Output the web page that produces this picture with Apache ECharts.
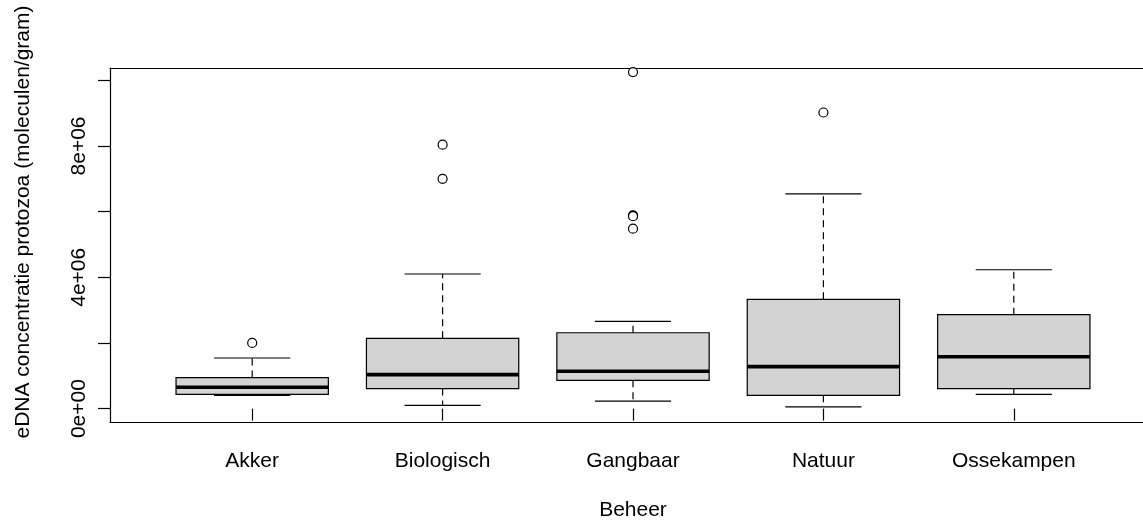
<!DOCTYPE html>
<html>
<head>
<meta charset="utf-8">
<title>eDNA protozoa per beheer</title>
<script src="https://cdn.jsdelivr.net/npm/echarts@6/dist/echarts.min.js"></script>
<style>
  html, body { margin: 0; padding: 0; background: #fff; }
  #chart { width: 1143px; height: 526px; }
</style>
</head>
<body>
<div id="chart"></div>
<script>
// groepen (Beheer)
var categories = ['Akker', 'Biologisch', 'Gangbaar', 'Natuur', 'Ossekampen'];
// boxplot statistieken per groep (moleculen/gram)
var whiskerLow  = [0.405e6, 0.10e6, 0.23e6, 0.05e6, 0.436e6];
var q1          = [0.436e6, 0.609e6, 0.862e6, 0.405e6, 0.61e6];
var median      = [0.649e6, 1.036e6, 1.136e6, 1.28e6, 1.58e6];
var q3          = [0.944e6, 2.14e6, 2.31e6, 3.33e6, 2.86e6];
var whiskerHigh = [1.541e6, 4.10e6, 2.66e6, 6.54e6, 4.23e6];
// uitschieters
var outlierGroup = [0, 1, 1, 2, 2, 2, 2, 2, 3];
var outlierValue = [2.0e6, 7.0e6, 8.04e6, 10.25e6, 5.89e6, 5.87e6, 5.86e6, 5.48e6, 9.02e6];
// y-as
var yTicks = [0, 2e6, 4e6, 6e6, 8e6, 10e6];
var yLabels = [0, 4e6, 8e6];
var yMin = -0.408e6, yMax = 10.375e6;

var font = 'Liberation Sans, Arial, sans-serif';

// R-achtige notatie: 4e+06
function sci(v) {
    if (v === 0) return '0e+00';
    var exp = Math.floor(Math.log10(Math.abs(v)));
    var m = Math.round(v / Math.pow(10, exp));
    return m + 'e' + (exp < 0 ? '-' : '+') + (Math.abs(exp) < 10 ? '0' : '') + Math.abs(exp);
}

var boxData = categories.map(function (c, i) {
    return [i, whiskerLow[i], q1[i], median[i], q3[i], whiskerHigh[i]];
});
var outlierData = outlierGroup.map(function (g, i) {
    return [g, outlierValue[i]];
});

function renderBox(params, api) {
    var idx = api.value(0);
    var lo = api.coord([idx, api.value(1)]);
    var b1 = api.coord([idx, api.value(2)]);
    var md = api.coord([idx, api.value(3)]);
    var b3 = api.coord([idx, api.value(4)]);
    var hi = api.coord([idx, api.value(5)]);
    var bw = api.size([1, 0])[0] * 0.8;
    var x = md[0];
    var dash = { stroke: '#000', lineWidth: 1.2, lineDash: [7, 5] };
    var solid = { stroke: '#000', lineWidth: 1.2 };
    return {
        type: 'group',
        children: [
            { type: 'line', shape: { x1: x, y1: b3[1], x2: x, y2: hi[1] }, style: dash },
            { type: 'line', shape: { x1: x, y1: b1[1], x2: x, y2: lo[1] }, style: dash },
            { type: 'line', shape: { x1: x - bw / 4, y1: hi[1], x2: x + bw / 4, y2: hi[1] }, style: solid },
            { type: 'line', shape: { x1: x - bw / 4, y1: lo[1], x2: x + bw / 4, y2: lo[1] }, style: solid },
            { type: 'rect', shape: { x: x - bw / 2, y: b3[1], width: bw, height: b1[1] - b3[1] },
              style: { fill: '#d3d3d3', stroke: '#000', lineWidth: 1.2 } },
            { type: 'line', shape: { x1: x - bw / 2, y1: md[1], x2: x + bw / 2, y2: md[1] },
              style: { stroke: '#000', lineWidth: 3.6 } }
        ]
    };
}

var frameLine = { show: true, onZero: false, lineStyle: { color: '#000', width: 1.2 } };

var myChart = echarts.init(document.getElementById('chart'));
var option = {
    animation: false,
    backgroundColor: '#fff',
    textStyle: { fontFamily: font },
    grid: [
        // kader (rechterkant valt buiten beeld)
        { left: 110, right: 0, top: 68, height: 354 },
        // boxen
        { left: 157, right: 34, top: 68, height: 354 }
    ],
    xAxis: [
        { gridIndex: 0, type: 'value', min: 0, max: 1, position: 'bottom',
          axisLine: frameLine, axisTick: { show: false }, axisLabel: { show: false }, splitLine: { show: false } },
        {
            gridIndex: 1, type: 'category', data: categories,
            axisLine: { show: false },
            axisTick: { show: true, alignWithLabel: true, length: 12, lineStyle: { color: '#000', width: 1.2 } },
            axisLabel: { margin: 29, fontSize: 21, color: '#000', fontFamily: font },
            name: 'Beheer', nameLocation: 'middle', nameGap: 78,
            nameTextStyle: { fontSize: 21, color: '#000', fontFamily: font }
        },
        { gridIndex: 0, type: 'value', min: 0, max: 1, position: 'top',
          axisLine: frameLine, axisTick: { show: false }, axisLabel: { show: false }, splitLine: { show: false } }
    ],
    yAxis: [
        {
            gridIndex: 0, type: 'value', min: yMin, max: yMax,
            axisLine: frameLine,
            splitLine: { show: false },
            axisTick: { show: true, length: 12, customValues: yTicks, lineStyle: { color: '#000', width: 1.2 } },
            axisLabel: { customValues: yLabels, rotate: 90, margin: 20, fontSize: 21, color: '#000',
                         fontFamily: font, formatter: sci },
            name: 'eDNA concentratie protozoa (moleculen/gram)',
            nameLocation: 'middle', nameGap: 76,
            nameTextStyle: { fontSize: 21, color: '#000', fontFamily: font, padding: [0, 0, 0, 46] }
        },
        { gridIndex: 1, type: 'value', min: yMin, max: yMax, show: false }
    ],
    series: [
        {
            type: 'custom', xAxisIndex: 1, yAxisIndex: 1,
            renderItem: renderBox,
            encode: { x: 0, y: [1, 2, 3, 4, 5] },
            data: boxData
        },
        {
            type: 'scatter', xAxisIndex: 1, yAxisIndex: 1,
            symbol: 'circle', symbolSize: 9,
            itemStyle: { color: '#fff', borderColor: '#000', borderWidth: 1.2, opacity: 1 },
            data: outlierData
        }
    ]
};
myChart.setOption(option);
window.addEventListener('resize', function () {
    myChart.resize();
});
</script>
</body>
</html>
